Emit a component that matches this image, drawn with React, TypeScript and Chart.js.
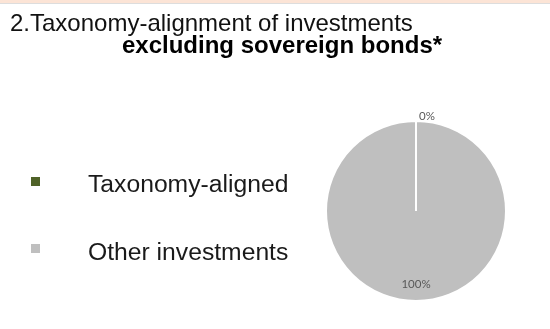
import React, { useEffect, useRef } from "react";
import { Chart, registerables } from "chart.js";

Chart.register(...registerables);

const titleLine1 = "2.Taxonomy-alignment of investments";
const titleLine2 = "excluding sovereign bonds*";
const categories = ["Taxonomy-aligned", "Other investments"];
const values = [0, 100];
const colors = ["#4f6228", "#bfbfbf"];

const labelPlugin = {
  id: "sliceLabels",
  afterDatasetsDraw(chart: any) {
    const ctx = chart.ctx;
    const meta = chart.getDatasetMeta(0);
    const total = values.reduce((a, b) => a + b, 0);
    ctx.save();
    ctx.font = "11.5px Lato, 'Open Sans', sans-serif";
    ctx.fillStyle = "#595959";
    ctx.textBaseline = "middle";
    meta.data.forEach((arc: any, i: number) => {
      const { x, y, startAngle, endAngle, outerRadius } = arc.getProps(
        ["x", "y", "startAngle", "endAngle", "outerRadius"],
        true
      );
      const pct = Math.round((values[i] / total) * 100) + "%";
      const mid = (startAngle + endAngle) / 2;
      if (values[i] / total < 0.05) {
        const r = outerRadius + 5;
        ctx.textAlign = "left";
        ctx.fillText(pct, x + Math.cos(mid) * r + 3, y + Math.sin(mid) * r);
      } else {
        const r = outerRadius * 0.81;
        ctx.textAlign = "center";
        ctx.fillText(pct, x + Math.cos(mid) * r, y + Math.sin(mid) * r);
      }
    });
    ctx.restore();
  },
};

export default function App() {
  const ref = useRef<HTMLCanvasElement | null>(null);
  useEffect(() => {
    if (!ref.current) return;
    const chart = new Chart(ref.current, {
      type: "pie",
      data: {
        labels: categories,
        datasets: [
          {
            data: values,
            backgroundColor: colors,
            borderColor: "#ffffff",
            borderWidth: 2,
          },
        ],
      },
      options: {
        animation: false,
        responsive: false,
        maintainAspectRatio: false,
        layout: { padding: { left: 325, right: 43, top: 120, bottom: 27 } },
        plugins: {
          legend: { display: false },
          tooltip: { enabled: false },
          title: { display: false },
        },
        events: [],
      },
      plugins: [labelPlugin],
    });
    return () => chart.destroy();
  }, []);

  const font = "'Liberation Sans', Arial, sans-serif";
  return (
    <div
      style={{
        position: "fixed",
        left: 0,
        top: 0,
        width: 550,
        height: 329,
        background: "#ffffff",
        overflow: "hidden",
        fontFamily: font,
      }}
    >
      <div
        style={{
          position: "absolute",
          left: 0,
          top: 0,
          width: 550,
          height: 3,
          background: "#fce4d6",
          borderBottom: "1px solid #dddddd",
        }}
      />
      <canvas
        ref={ref}
        width={550}
        height={329}
        style={{ position: "absolute", left: 0, top: 0, width: 550, height: 329 }}
      />
      <div
        style={{
          position: "absolute",
          left: 10,
          top: 11,
          fontSize: 24,
          lineHeight: "24px",
          color: "#111",
          whiteSpace: "nowrap",
        }}
      >
        {titleLine1}
      </div>
      <div
        style={{
          position: "absolute",
          left: 122,
          top: 33,
          fontSize: 24,
          lineHeight: "24px",
          fontWeight: "bold",
          color: "#000",
          whiteSpace: "nowrap",
        }}
      >
        {titleLine2}
      </div>
      {categories.map((c, i) => (
        <React.Fragment key={c}>
          <div
            style={{
              position: "absolute",
              left: 31,
              top: i === 0 ? 177 : 244,
              width: 9,
              height: 9,
              background: colors[i],
            }}
          />
          <div
            style={{
              position: "absolute",
              left: 88,
              top: i === 0 ? 172 : 240,
              fontSize: 24.7,
              lineHeight: "24px",
              color: "#1a1a1a",
              whiteSpace: "nowrap",
            }}
          >
            {c}
          </div>
        </React.Fragment>
      ))}
    </div>
  );
}
